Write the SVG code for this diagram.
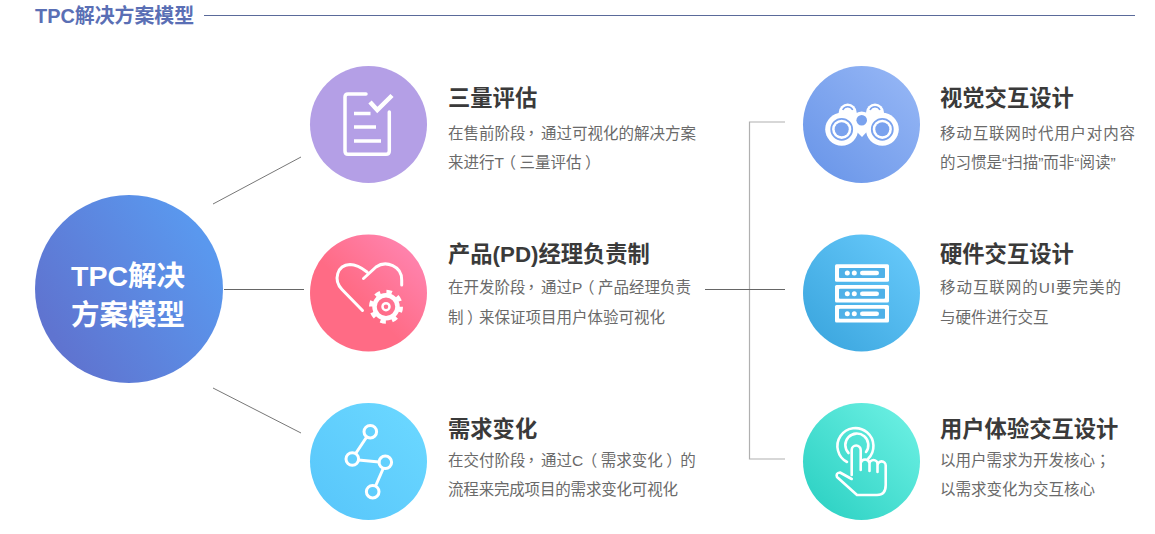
<svg xmlns="http://www.w3.org/2000/svg" width="1155" height="534" viewBox="0 0 1155 534">
<style>
text{font-family:"Liberation Sans","Noto Sans CJK SC",sans-serif}
.t{font-size:22.300px;font-weight:700;fill:#3a3a3a}
.b{font-size:15.500px;fill:#6a6a6a}
.p{font-family:"Noto Sans CJK TC",sans-serif}
.i{fill:none;stroke:#fff;stroke-width:3;stroke-linecap:round;stroke-linejoin:round}
.f{fill:#fff}
</style>
<defs>
<linearGradient id="gm" x1="0.9" y1="0.25" x2="0.1" y2="0.75"><stop offset="0" stop-color="#5a98ee"/><stop offset="1" stop-color="#5f74d0"/></linearGradient>
<linearGradient id="gp" x1="0.85" y1="0.15" x2="0.15" y2="0.85"><stop offset="0" stop-color="#ff82ac"/><stop offset="0.6" stop-color="#ff6b85"/></linearGradient>
<linearGradient id="gb" x1="0.85" y1="0.15" x2="0.15" y2="0.85"><stop offset="0" stop-color="#69d6ff"/><stop offset="1" stop-color="#5ac8fb"/></linearGradient>
<linearGradient id="gv" x1="0.85" y1="0.15" x2="0.15" y2="0.85"><stop offset="0" stop-color="#91b3f4"/><stop offset="1" stop-color="#6e99ea"/></linearGradient>
<linearGradient id="gs" x1="0.85" y1="0.15" x2="0.15" y2="0.85"><stop offset="0" stop-color="#63c6f8"/><stop offset="1" stop-color="#3fa9e1"/></linearGradient>
<linearGradient id="gh" x1="0.85" y1="0.15" x2="0.15" y2="0.85"><stop offset="0" stop-color="#66ede0"/><stop offset="1" stop-color="#32d4c6"/></linearGradient>
</defs>
<g id="heading">
<text x="35" y="23" font-size="19.900" font-weight="700" fill="#5a6fb5">TPC解决方案模型</text>
<line x1="204" y1="15.500" x2="1135" y2="15.500" stroke="#5a6a9a" stroke-width="1"/>
</g>
<g id="connectors" fill="none">
<line x1="213" y1="204" x2="301" y2="157" stroke="#777" stroke-width="1"/>
<line x1="224" y1="289.500" x2="304" y2="289.500" stroke="#666" stroke-width="1"/>
<line x1="213" y1="388" x2="301" y2="433" stroke="#777" stroke-width="1"/>
<path d="M785 122H749.500V459H785" stroke="#b0b0b0" stroke-width="1.200"/>
<line x1="705" y1="289.500" x2="785" y2="289.500" stroke="#666" stroke-width="1"/>
</g>
<g id="main">
<circle cx="129" cy="289" r="94" fill="url(#gm)"/>
<text x="128" y="285.500" font-size="28.500" font-weight="700" fill="#fff" text-anchor="middle">TPC解决</text>
<text x="128" y="325" font-size="28.500" font-weight="700" fill="#fff" text-anchor="middle">方案模型</text>
</g>
<g id="node-assess">
<circle cx="368.500" cy="124.500" r="58.500" fill="#b49fe6"/>
<path class="i" style="stroke-width:3.500" d="M366 94H348Q345 94 345 97V151Q345 154.300 348 154.300H386Q389.300 154.300 389.300 151V112"/>
<path class="i" style="stroke-width:4.500;stroke-linecap:butt;stroke-linejoin:miter" d="M370 102L377.300 110L392 95.500"/>
<path class="i" style="stroke-width:3.500;stroke-linecap:butt" d="M354 113.500H370.500M354 127H376M354 141H381"/>
<text class="t" x="448" y="106">三量评估</text>
<text class="b" x="448" y="139">在售前阶段<tspan class="p" dx="-2">，</tspan><tspan dx="2">通过可视化的解决方案</tspan></text>
<text class="b" x="448" y="168">来进行T<tspan class="p" dx="-3.500">（</tspan><tspan dx="3.500">三量评估</tspan><tspan class="p" dx="3.500">）</tspan></text>
</g>
<g id="node-pd">
<circle cx="368.500" cy="293" r="58.500" fill="url(#gp)"/>
<path class="i" d="M362.500 310.500L342 289.500C333 280 337 265 350 264.500C356 264.500 362 268 367 272M363.500 278.500L376 267C386 260 402 266 401.700 280V285"/>
<circle cx="386" cy="306.700" r="11.500" fill="none" stroke="#fff" stroke-width="4.500"/>
<circle cx="386" cy="306.700" r="15" fill="none" stroke="#fff" stroke-width="4" stroke-dasharray="5.500 6.280"/>
<circle cx="386" cy="306.700" r="3.500" fill="none" stroke="#fff" stroke-width="2.500"/>
<text class="t" x="448" y="262">产品(PD)经理负责制</text>
<text class="b" x="448" y="293">在开发阶段<tspan class="p" dx="-2">，</tspan><tspan dx="2">通过P</tspan><tspan class="p" dx="-3.500">（</tspan><tspan dx="3.500">产品经理负责</tspan></text>
<text class="b" x="448" y="323">制<tspan class="p" dx="3.500">）</tspan><tspan dx="-3.500">来保证项目用户体验可视化</tspan></text>
</g>
<g id="node-demand">
<circle cx="368.500" cy="461.500" r="58.500" fill="url(#gb)"/>
<path class="i" d="M366 438L356 453M358.500 460L379 462M383 469L376 485"/>
<circle class="i" cx="370.300" cy="431.700" r="6.300"/>
<circle class="i" cx="352.300" cy="459" r="6.300"/>
<circle class="i" cx="385.300" cy="462.300" r="6.300"/>
<circle class="i" cx="372.700" cy="491.700" r="6.300"/>
<text class="t" x="448" y="437">需求变化</text>
<text class="b" x="448" y="466">在交付阶段<tspan class="p" dx="-2">，</tspan><tspan dx="2">通过C</tspan><tspan class="p" dx="-1.500">（</tspan><tspan dx="3.500">需求变化</tspan><tspan class="p" dx="3.500">）</tspan><tspan dx="-1.500">的</tspan></text>
<text class="b" x="448" y="495" textLength="230">流程来完成项目的需求变化可视化</text>
</g>
<g id="node-visual">
<circle cx="861.500" cy="124.500" r="58.500" fill="url(#gv)"/>
<circle class="f" cx="847.700" cy="112.500" r="9"/>
<circle class="f" cx="875" cy="112.500" r="9"/>
<path d="M842.700 110A5.500 5.500 0 0 1 852.700 110M870 110A5.500 5.500 0 0 1 880 110" fill="none" stroke="#7aa2ee" stroke-width="1.500"/>
<circle class="f" cx="861.700" cy="121" r="9.500"/>
<path class="f" d="M850 113H873V125L862 137L850 125Z"/>
<circle class="f" cx="841.700" cy="129.300" r="16.500"/>
<circle class="f" cx="882.300" cy="129.300" r="16.500"/>
<circle cx="841.700" cy="129.300" r="10.500" fill="none" stroke="#7aa2ee" stroke-width="1.800"/>
<circle cx="882.300" cy="129.300" r="10.500" fill="none" stroke="#7aa2ee" stroke-width="1.800"/>
<circle cx="841.700" cy="129.300" r="7" fill="#7aa2ee"/>
<circle cx="882.300" cy="129.300" r="7" fill="#7aa2ee"/>
<circle cx="861.700" cy="120.300" r="5.300" fill="#7aa2ee"/>
<text class="t" x="940" y="106">视觉交互设计</text>
<text class="b" x="940" y="139" textLength="195">移动互联网时代用户对内容</text>
<text class="b" x="940" y="168">的习惯是“扫描”而非“阅读”</text>
</g>
<g id="node-hardware">
<circle cx="861.500" cy="293" r="58.500" fill="url(#gs)"/>
<g fill="#fff">
<rect x="835" y="264.300" width="54" height="17.400" rx="1.500"/>
<rect x="835" y="285" width="54" height="17.400" rx="1.500"/>
<rect x="835" y="305" width="54" height="17.400" rx="1.500"/>
</g>
<g fill="#4fb1e8">
<rect x="839" y="268" width="46" height="10" rx="1"/>
<rect x="839" y="288.700" width="46" height="10" rx="1"/>
<rect x="839" y="308.700" width="46" height="10" rx="1"/>
</g>
<g fill="#fff">
<circle cx="847.300" cy="273" r="2.500"/><circle cx="854.300" cy="273" r="2.500"/><rect x="860" y="270.700" width="19" height="4.600" rx="2.300"/>
<circle cx="847.300" cy="293.700" r="2.500"/><circle cx="854.300" cy="293.700" r="2.500"/><rect x="860" y="291.400" width="19" height="4.600" rx="2.300"/>
<circle cx="847.300" cy="313.700" r="2.500"/><circle cx="854.300" cy="313.700" r="2.500"/><rect x="860" y="311.400" width="19" height="4.600" rx="2.300"/>
</g>
<text class="t" x="940" y="262">硬件交互设计</text>
<text class="b" x="940" y="293" textLength="181">移动互联网的UI要完美的</text>
<text class="b" x="940" y="323">与硬件进行交互</text>
</g>
<g id="node-ux">
<circle cx="861.500" cy="461.500" r="58.500" fill="url(#gh)"/>
<path class="i" style="stroke-width:2.600" d="M847 462A18 18 0 1 1 868 459M848.500 453A11.500 11.500 0 1 1 866 452"/>
<path class="i" style="stroke-width:2.600" d="M851.700 475V450A4.500 4.500 0 0 1 860.700 450V470M860.700 463A4.500 4.500 0 0 1 869.500 463V471M869.500 464A4 4 0 0 1 877.500 464V472M877.500 465.500A4 4 0 0 1 885.700 465.500V485Q885.700 495 877 495H857L837 477Q835.500 473 840 472.500L851.700 479"/>
<text class="t" x="940" y="437">用户体验交互设计</text>
<text class="b" x="940" y="466">以用户需求为开发核心<tspan class="p">；</tspan></text>
<text class="b" x="940" y="495">以需求变化为交互核心</text>
</g>
</svg>
